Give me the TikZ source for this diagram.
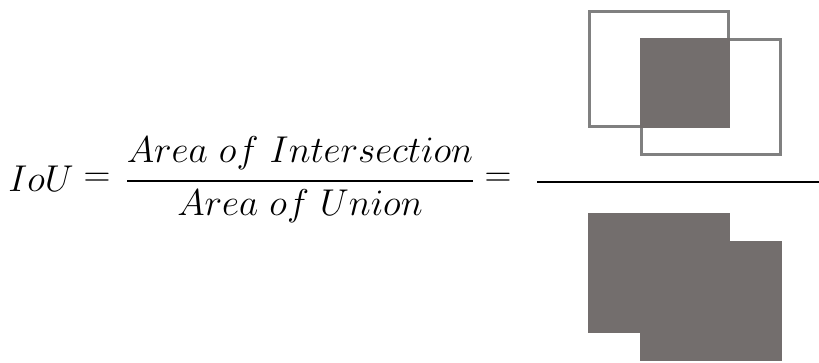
\documentclass[tikz,border=0pt]{standalone}
\usepackage{amsmath}
\usepackage{tikz}
\usetikzlibrary{positioning}
\usepackage{xcolor}

\definecolor{boxgray}{RGB}{128,128,128}
\definecolor{areagray}{RGB}{115,110,109}

\begin{document}
\begin{tikzpicture}[
    x=1pt, y=-1pt,
    eqtext/.style={font=\Huge, scale=1.5, inner sep=0pt},
    box/.style={draw=boxgray, line width=3pt},
    area/.style={fill=areagray},
    bar/.style={line width=2pt}
]
\useasboundingbox (0,0) rectangle (819,363);

% ----- Left side -----
\node[eqtext, anchor=base west] (iou) at (8,192) {$IoU$};
\node[eqtext] (eqA) at (97,180) {$=$};

% ----- Fraction in words -----
\node[eqtext, anchor=base] (num) at (300,163) {$Area\ of\ Intersection$};
\node[eqtext, anchor=base] (den) at (300,216) {$Area\ of\ Union$};
\coordinate (barL) at (127,181);
\coordinate (barR) at (473,181);
\draw[bar] (barL) -- (barR);

\node[eqtext] (eqB) at (498,180) {$=$};

% ----- Fraction in boxes -----
\coordinate (lineL) at (537,182);
\coordinate (lineR) at (819,182);
\draw[bar] (lineL) -- (lineR);

% intersection (top)
\draw[box] (589.5,11.5) rectangle (728.5,126.5);
\draw[box] (641.5,39.5) rectangle (780.5,154.5);
\fill[area] (640,38) rectangle (730,128);

% union (bottom)
\fill[area] (588,213) rectangle (730,333);
\fill[area] (640,241) rectangle (782,361);

\end{tikzpicture}
\end{document}
